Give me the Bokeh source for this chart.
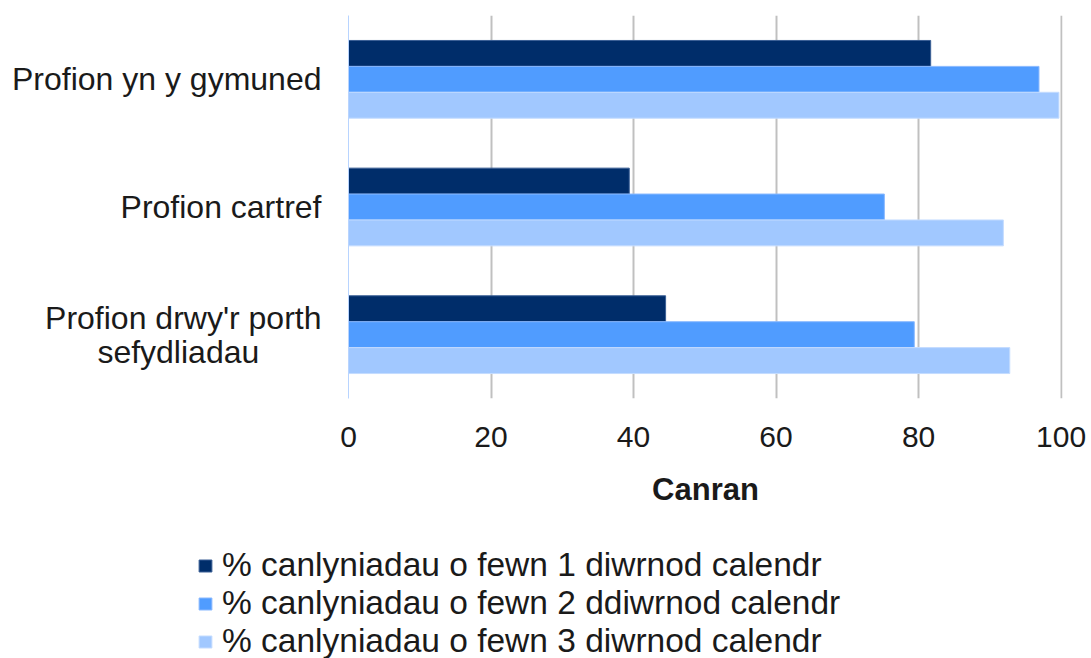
from bokeh.plotting import figure
from bokeh.models import FactorRange, Legend, LegendItem, FixedTicker, ColumnDataSource
from bokeh.transform import dodge
from bokeh.embed import file_html
from bokeh.resources import INLINE

NBSP = "\u00a0"
categories = ["Profion yn y gymuned", "Profion cartref", "Profion drwy'r porth\nsefydliadau" + NBSP * 7]
series_names = [
    "% canlyniadau o fewn 1 diwrnod calendr",
    "% canlyniadau o fewn 2 ddiwrnod calendr",
    "% canlyniadau o fewn 3 diwrnod calendr",
]
within_1_day = [81.7, 39.4, 44.5]
within_2_days = [96.9, 75.2, 79.4]
within_3_days = [99.7, 91.9, 92.8]
x_ticks = [0, 20, 40, 60, 80, 100]
grid_ticks = [20, 40, 60, 80, 100]

colors = ["#002D6A", "#509CFF", "#A1C8FF"]
outline = ["#3A5F95", "#8AB9FF", "#C4DCFF"]
FONT = "Liberation Sans"
TEXT = "#1a1a1a"

source = ColumnDataSource(dict(cat=categories, v1=within_1_day, v2=within_2_days, v3=within_3_days))
fields = ["v1", "v2", "v3"]
bar_h = 0.203
offsets = [bar_h, 0.0, -bar_h]

p = figure(
    y_range=FactorRange(factors=list(reversed(categories)), range_padding=0),
    x_range=(0, 100.2),
    width=1089, height=520,
    output_backend="svg", toolbar_location=None,
    min_border_left=348, min_border_right=27, min_border_top=15, min_border_bottom=122,
)
p.outline_line_color = None
p.background_fill_color = "white"
p.border_fill_color = "white"

for f, off, c, lc in zip(fields, offsets, colors, outline):
    p.hbar(y=dodge("cat", off, range=p.y_range), left=0, right=f, height=bar_h,
           source=source, fill_color=c, line_color=lc, line_width=1)

# grid
p.ygrid.grid_line_color = None
p.xgrid.ticker = FixedTicker(ticks=grid_ticks)
p.xgrid.grid_line_color = "#C0C0C0"
p.xgrid.grid_line_width = 2

# x axis
xa = p.xaxis[0]
xa.ticker = FixedTicker(ticks=x_ticks)
xa.axis_line_color = None
xa.major_tick_line_color = None
xa.minor_tick_line_color = None
xa.major_label_standoff = 22
xa.major_label_text_font = FONT
xa.major_label_text_font_size = "30px"
xa.major_label_text_color = TEXT
xa.axis_label = "Canran"
xa.axis_label_text_font = FONT
xa.axis_label_text_font_style = "bold"
xa.axis_label_text_font_size = "31px"
xa.axis_label_text_color = TEXT
xa.axis_label_standoff = 22

# y axis
ya = p.yaxis[0]
ya.axis_line_color = "#B8D4FF"
ya.axis_line_width = 1
ya.major_tick_line_color = None
ya.minor_tick_line_color = None
ya.major_label_standoff = 21
ya.major_label_text_font = FONT
ya.major_label_text_font_size = "32px"
ya.major_label_text_color = TEXT
ya.major_label_text_line_height = 0.95

# legend in its own strip below the chart (separate root, so it is not frame-aligned)
lg = figure(width=1089, height=138, output_backend="svg", toolbar_location=None,
            y_range=FactorRange(factors=list(reversed(categories))), x_range=(0, 100),
            min_border_left=0, min_border_right=0, min_border_top=0, min_border_bottom=0)
lg.axis.visible = False
lg.grid.grid_line_color = None
lg.outline_line_color = None
lg.background_fill_color = "white"
lg.border_fill_color = "white"
legend_renderers = []
for f, off, c, lc in zip(fields, offsets, colors, outline):
    r = lg.hbar(y=dodge("cat", off, range=lg.y_range), left=0, right=f, height=bar_h,
                source=source, fill_color=c, line_color=lc, line_width=1, visible=False)
    legend_renderers.append(r)

legend = Legend(
    items=[LegendItem(label=n, renderers=[r]) for n, r in zip(series_names, legend_renderers)],
    location=(197, -2),
    orientation="vertical",
    padding=0, margin=0, spacing=-4,
    glyph_width=16, glyph_height=15,
    label_standoff=9, label_height=35,
    label_text_font=FONT, label_text_font_size="33.5px", label_text_color=TEXT,
    border_line_color=None, background_fill_alpha=0,
    inactive_fill_alpha=0,
)
lg.add_layout(legend, "center")

open("out.html", "w").write(file_html([p, lg], INLINE))
